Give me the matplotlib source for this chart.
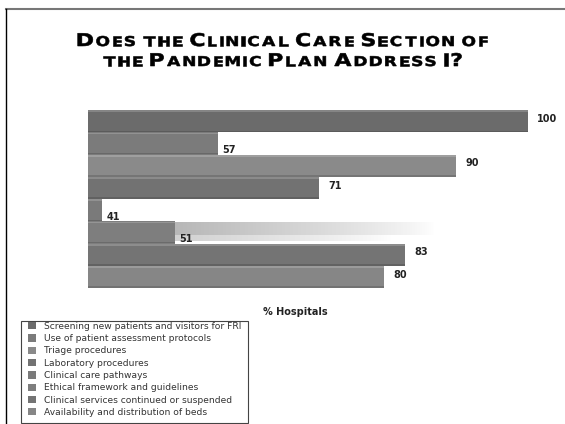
import numpy as np
import matplotlib
matplotlib.use('Agg')
import matplotlib.pyplot as plt
from matplotlib.lines import Line2D
from matplotlib.patches import Patch, Rectangle, PathPatch
from matplotlib.textpath import TextPath
from matplotlib.font_manager import FontProperties
from matplotlib.transforms import Affine2D

# Pandemic plan survey: share of hospitals whose clinical care section covers each item
items = ['Screening new patients and visitors for FRI',
         'Use of patient assessment protocols',
         'Triage procedures',
         'Laboratory procedures',
         'Clinical care pathways',
         'Ethical framework and guidelines',
         'Clinical services continued or suspended',
         'Availability and distribution of beds']
pct = [100, 57, 90, 71, 41, 51, 83, 80]
shades = ['#6b6b6b', '#7b7b7b', '#8a8a8a', '#727272',
          '#7a7a7a', '#7e7e7e', '#747474', '#868686']

base = 39  # bars are cut off here, no axis drawn

W, H = 565, 424
fig = plt.figure(figsize=(W / 100, H / 100), dpi=100)
ax = fig.add_axes([88 / W, 136 / H, 476 / W, 178 / H])

handles = []
for i, (v, c, lab) in enumerate(zip(pct, shades, items)):
    ax.barh(i, v, height=1.0, color=c, edgecolor='none', label=lab)
    # light top edge and darker lower edge for a bit of depth
    ax.barh(i - 0.44, v, height=0.08, color='white', alpha=0.18, edgecolor='none')
    ax.barh(i + 0.46, v, height=0.06, color='black', alpha=0.15, edgecolor='none')
    handles.append(Patch(facecolor=c, edgecolor='none', label=lab))

# value labels
for i, v in enumerate(pct):
    if v < 60:
        ax.text(v + 0.6, i + 0.3, str(v), va='center', ha='left',
                fontsize=7, fontweight='bold', color='#222222')
    else:
        ax.text(v + 1.3, i - 0.1, str(v), va='center', ha='left',
                fontsize=7, fontweight='bold', color='#222222')

# fading glare behind the ethical-framework bar
grad = np.linspace(1, 0, 256).reshape(1, -1)
glare = np.ones((1, 256, 4))
glare[..., :3] = 0.72
glare[..., 3] = grad ** 0.8
ax.imshow(glare, extent=[pct[5], pct[5] + 36, 5 - 0.45, 5 + 0.1],
          aspect='auto', interpolation='bilinear', zorder=1)
glare2 = glare.copy()
glare2[..., :3] = 0.82
ax.imshow(glare2, extent=[pct[5], pct[5] + 30, 5 + 0.15, 5 + 0.4],
          aspect='auto', interpolation='bilinear', zorder=1)

ax.set_xlim(base, 105)
ax.set_ylim(len(pct) - 0.5, -0.5)
ax.axis('off')

fig.text(295 / W, 1 - 312 / H, '% Hospitals', ha='center', va='center',
         fontsize=7, fontweight='bold', color='#222222')

# legend under the bars, frame drawn separately
leg = fig.legend(handles=handles, loc='upper left',
                 bbox_to_anchor=(26 / W, 1 - 320 / H),
                 fontsize=6.6, frameon=False,
                 handlelength=0.85, handleheight=0.85, handletextpad=0.95,
                 labelspacing=0.36, borderpad=0.2, borderaxespad=0)
for t in leg.get_texts():
    t.set_color('#333333')
fig.add_artist(Rectangle((21 / W, 1 - 423 / H), 227 / W, 102 / H,
                         transform=fig.transFigure, fill=False,
                         edgecolor='#444444', lw=0.8))

# title in small caps: capitals large, lower case drawn as smaller capitals.
# glyphs are built as paths so the whole line can be stretched wider.
title_font = FontProperties(family='DejaVu Sans', weight='bold')


def small_caps_line(text, baseline, big=17.5, small=13.5, stretch=1.26, track=2.8):
    paths = []
    x = 0
    for ch in text:
        size = big if (ch.isupper() or ch == '?') else small
        if ch == ' ':
            x += size * 0.3
            continue
        tp = TextPath((0, 0), ch.upper(), size=size, prop=title_font)
        ext = tp.get_extents()
        paths.append(tp.transformed(Affine2D().translate(x - ext.x0, 0)))
        x += ext.width + track
    total = (x - track) * stretch
    left = W / 2 - total / 2
    tr = Affine2D().scale(stretch, 1).translate(left, H - baseline).scale(1 / 100)
    for p in paths:
        fig.add_artist(PathPatch(p, transform=tr + fig.dpi_scale_trans,
                                 facecolor='black', edgecolor='black', lw=0.4))


small_caps_line('Does the Clinical Care Section of', 46)
small_caps_line('the Pandemic Plan Address I?', 66)

# page border lines
fig.add_artist(Line2D([6 / W, 1], [1 - 9 / H] * 2, transform=fig.transFigure,
                      color='#777777', lw=1.5))
fig.add_artist(Line2D([6 / W] * 2, [0, 1 - 9 / H], transform=fig.transFigure,
                      color='black', lw=1.0))

fig.savefig('out.png', dpi=100)
